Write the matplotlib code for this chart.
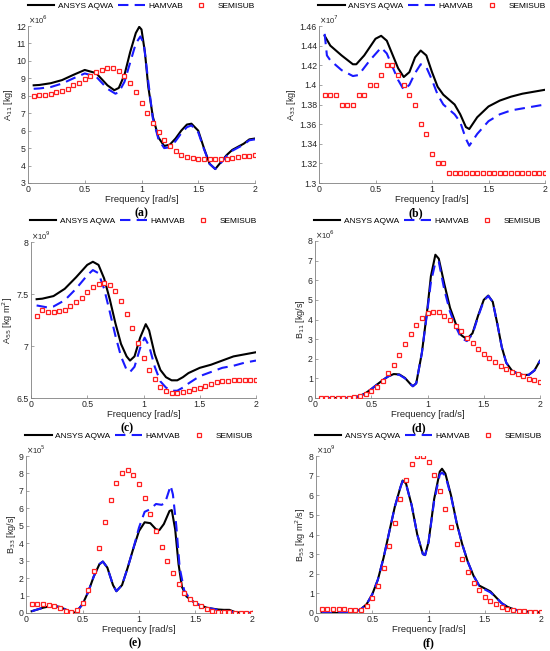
import numpy as np
import matplotlib
matplotlib.use("Agg")
import matplotlib.pyplot as plt

# ---------------- data ----------------
freq_semi = [round(0.05 * i, 2) for i in range(1, 41)]

# (a) A11 x1e6
a_x_aq = [0.05, 0.1, 0.2, 0.3, 0.4, 0.5, 0.6, 0.7, 0.76, 0.8, 0.85, 0.9, 0.95, 0.98, 1.0, 1.03, 1.06, 1.1, 1.15, 1.2, 1.25, 1.3, 1.35, 1.4, 1.44, 1.5, 1.55, 1.6, 1.65, 1.7, 1.75, 1.8, 1.9, 1.95, 2.0]
a_aq = [8.6, 8.62, 8.72, 8.9, 9.2, 9.48, 9.3, 8.6, 8.32, 8.45, 9.2, 10.5, 11.6, 11.95, 11.8, 10.5, 8.5, 6.8, 5.6, 5.12, 5.2, 5.55, 6.0, 6.35, 6.4, 6.0, 5.0, 4.1, 3.8, 4.2, 4.6, 4.9, 5.25, 5.5, 5.55]
a_x_ham = [0.05, 0.1, 0.2, 0.3, 0.4, 0.5, 0.6, 0.7, 0.77, 0.8, 0.85, 0.9, 0.95, 0.99, 1.02, 1.06, 1.1, 1.15, 1.2, 1.25, 1.3, 1.35, 1.4, 1.44, 1.5, 1.55, 1.6, 1.65, 1.7, 1.75, 1.8, 1.9, 1.95, 2.0]
a_ham = [8.4, 8.42, 8.5, 8.7, 9.0, 9.28, 9.1, 8.4, 8.12, 8.2, 8.8, 9.9, 11.0, 11.4, 11.0, 8.8, 6.7, 5.5, 5.0, 5.05, 5.4, 5.85, 6.2, 6.3, 5.9, 4.95, 4.1, 3.8, 4.15, 4.55, 4.85, 5.2, 5.45, 5.5]
a_semi = [8.0, 8.05, 8.07, 8.12, 8.2, 8.3, 8.4, 8.6, 8.75, 8.95, 9.15, 9.35, 9.5, 9.58, 9.57, 9.42, 9.12, 8.72, 8.2, 7.6,
          7.0, 6.42, 5.92, 5.48, 5.12, 4.85, 4.62, 4.5, 4.42, 4.38, 4.35, 4.35, 4.35, 4.38, 4.4, 4.45, 4.48, 4.52, 4.55, 4.6]

# (b) A33 x1e7
b_x_aq = [0.05, 0.1, 0.2, 0.3, 0.33, 0.4, 0.5, 0.55, 0.6, 0.7, 0.75, 0.8, 0.85, 0.9, 0.95, 1.0, 1.05, 1.1, 1.2, 1.25, 1.3, 1.33, 1.4, 1.5, 1.6, 1.7, 1.8, 1.9, 2.0]
b_aq = [1.45, 1.44, 1.43, 1.421, 1.421, 1.43, 1.447, 1.45, 1.445, 1.417, 1.408, 1.413, 1.428, 1.435, 1.43, 1.413, 1.398, 1.39, 1.38, 1.37, 1.357, 1.355, 1.367, 1.378, 1.384, 1.388, 1.391, 1.393, 1.395]
b_x_ham = [0.05, 0.07, 0.1, 0.2, 0.3, 0.35, 0.45, 0.55, 0.6, 0.7, 0.75, 0.8, 0.85, 0.9, 0.95, 1.0, 1.05, 1.1, 1.2, 1.25, 1.3, 1.33, 1.4, 1.5, 1.6, 1.7, 1.8, 1.9, 2.0]
b_ham = [1.452, 1.43, 1.425, 1.415, 1.409, 1.41, 1.425, 1.438, 1.432, 1.405, 1.395, 1.4, 1.412, 1.421, 1.418, 1.405, 1.39, 1.38, 1.37, 1.362, 1.345, 1.338, 1.35, 1.363, 1.37, 1.374, 1.376, 1.378, 1.38]
b_semi = [1.39, 1.39, 1.39, 1.38, 1.38, 1.38, 1.39, 1.39, 1.40, 1.40, 1.41, 1.42, 1.42, 1.41, 1.40, 1.39, 1.38, 1.36, 1.35, 1.33,
          1.32, 1.32, 1.31, 1.31, 1.31, 1.31, 1.31, 1.31, 1.31, 1.31, 1.31, 1.31, 1.31, 1.31, 1.31, 1.31, 1.31, 1.31, 1.31, 1.31]

# (c) A55 x1e9
c_x_aq = [0.05, 0.1, 0.2, 0.3, 0.4, 0.5, 0.55, 0.6, 0.65, 0.7, 0.75, 0.8, 0.85, 0.88, 0.92, 0.97, 1.02, 1.05, 1.1, 1.15, 1.2, 1.25, 1.3, 1.35, 1.4, 1.5, 1.6, 1.7, 1.8, 1.9, 2.0]
c_aq = [7.45, 7.455, 7.48, 7.55, 7.66, 7.78, 7.81, 7.78, 7.65, 7.45, 7.22, 7.02, 6.9, 6.86, 6.9, 7.08, 7.21, 7.15, 6.92, 6.77, 6.7, 6.67, 6.67, 6.7, 6.74, 6.79, 6.82, 6.86, 6.9, 6.92, 6.94]
c_x_ham = [0.05, 0.1, 0.15, 0.2, 0.3, 0.4, 0.5, 0.55, 0.6, 0.65, 0.7, 0.75, 0.8, 0.85, 0.88, 0.92, 0.97, 1.01, 1.05, 1.1, 1.15, 1.2, 1.25, 1.3, 1.35, 1.4, 1.5, 1.6, 1.7, 1.8, 1.9, 2.0]
c_ham = [7.39, 7.38, 7.37, 7.38, 7.44, 7.55, 7.68, 7.73, 7.7, 7.55, 7.33, 7.1, 6.9, 6.77, 6.75, 6.8, 6.98, 7.08, 7.0, 6.8, 6.66, 6.6, 6.57, 6.57, 6.6, 6.64, 6.71, 6.75, 6.79, 6.81, 6.84, 6.86]
c_semi = [7.29, 7.35, 7.33, 7.33, 7.34, 7.35, 7.38, 7.42, 7.46, 7.52, 7.57, 7.60, 7.61, 7.59, 7.53, 7.43, 7.31, 7.17, 7.03, 6.88,
          6.77, 6.68, 6.61, 6.57, 6.55, 6.55, 6.56, 6.57, 6.59, 6.60, 6.62, 6.63, 6.65, 6.66, 6.66, 6.67, 6.67, 6.67, 6.67, 6.67]

# (d) B11 x1e6
d_x = [0.05, 0.1, 0.2, 0.3, 0.35, 0.4, 0.45, 0.5, 0.55, 0.6, 0.65, 0.7, 0.75, 0.8, 0.85, 0.87, 0.9, 0.95, 1.0, 1.03, 1.07, 1.1, 1.15, 1.2, 1.25, 1.3, 1.35, 1.4, 1.45, 1.5, 1.54, 1.58, 1.62, 1.66, 1.7, 1.75, 1.8, 1.85, 1.9, 1.95, 2.0]
d_aq = [0.0, 0.0, 0.0, 0.0, 0.03, 0.1, 0.25, 0.45, 0.68, 0.9, 1.1, 1.22, 1.2, 1.02, 0.7, 0.6, 0.75, 2.3, 4.6, 6.2, 7.3, 7.1, 5.8, 4.6, 3.8, 3.2, 3.0, 3.3, 4.2, 5.0, 5.22, 4.9, 3.8, 2.6, 1.8, 1.4, 1.25, 1.17, 1.18, 1.4, 1.9]
d_ham = [0.0, 0.0, 0.0, 0.0, 0.03, 0.1, 0.25, 0.45, 0.68, 0.9, 1.1, 1.2, 1.18, 1.0, 0.7, 0.6, 0.75, 2.3, 4.5, 5.9, 6.9, 6.95, 5.5, 4.4, 3.65, 3.05, 2.9, 3.25, 4.15, 4.95, 5.2, 4.9, 3.8, 2.6, 1.8, 1.4, 1.25, 1.17, 1.18, 1.4, 1.9]
d_semi = [0.0, 0.0, 0.0, 0.0, 0.0, 0.0, 0.05, 0.1, 0.2, 0.35, 0.55, 0.85, 1.25, 1.7, 2.2, 2.75, 3.27, 3.73, 4.1, 4.33,
          4.4, 4.37, 4.2, 3.97, 3.68, 3.4, 3.07, 2.78, 2.5, 2.23, 2.02, 1.82, 1.63, 1.47, 1.32, 1.2, 1.1, 0.98, 0.9, 0.8]

# (e) B33 x1e5
e_x_aq = [0.05, 0.1, 0.15, 0.2, 0.25, 0.3, 0.35, 0.4, 0.43, 0.45, 0.5, 0.55, 0.6, 0.65, 0.68, 0.72, 0.77, 0.8, 0.85, 0.9, 0.95, 1.0, 1.05, 1.1, 1.15, 1.18, 1.22, 1.27, 1.29, 1.32, 1.35, 1.38, 1.42, 1.5, 1.6, 1.7, 1.75, 1.8, 1.85, 1.9, 2.0]
e_aq = [0.1, 0.2, 0.3, 0.37, 0.4, 0.35, 0.2, 0.05, 0.02, 0.1, 0.5, 1.2, 2.1, 2.8, 2.95, 2.6, 1.6, 1.25, 1.6, 2.6, 3.7, 4.7, 5.2, 5.15, 4.8, 4.75, 5.1, 5.85, 5.9, 4.8, 2.8, 1.5, 0.95, 0.55, 0.3, 0.2, 0.18, 0.18, 0.05, 0.02, 0.0]
e_x_ham = [0.05, 0.1, 0.15, 0.2, 0.25, 0.3, 0.35, 0.4, 0.43, 0.45, 0.5, 0.55, 0.6, 0.65, 0.68, 0.72, 0.77, 0.8, 0.85, 0.9, 0.95, 1.0, 1.05, 1.1, 1.15, 1.2, 1.23, 1.28, 1.3, 1.33, 1.36, 1.4, 1.45, 1.5, 1.6, 1.7, 1.75, 1.8, 1.85, 1.9, 2.0]
e_ham = [0.1, 0.2, 0.3, 0.37, 0.4, 0.35, 0.2, 0.05, 0.02, 0.1, 0.5, 1.2, 2.1, 2.8, 2.95, 2.6, 1.6, 1.25, 1.6, 2.6, 3.7, 4.9, 5.8, 5.95, 6.25, 6.2, 6.3, 7.3, 6.8, 5.0, 2.6, 1.3, 0.8, 0.55, 0.3, 0.18, 0.12, 0.1, 0.04, 0.02, 0.0]
e_semi = [0.5, 0.5, 0.5, 0.48, 0.42, 0.3, 0.12, 0.05, 0.15, 0.55, 1.3, 2.4, 3.75, 5.2, 6.45, 7.45, 8.02, 8.18, 7.92, 7.38,
          6.57, 5.67, 4.72, 3.8, 2.98, 2.27, 1.67, 1.17, 0.82, 0.55, 0.38, 0.22, 0.12, 0.08, 0.05, 0.04, 0.02, 0.01, 0.01, 0.0]

# (f) B55 x1e9
f_x = [0.05, 0.15, 0.25, 0.3, 0.35, 0.4, 0.45, 0.5, 0.55, 0.6, 0.65, 0.7, 0.75, 0.77, 0.8, 0.85, 0.9, 0.95, 0.97, 1.0, 1.05, 1.1, 1.12, 1.15, 1.2, 1.25, 1.3, 1.35, 1.4, 1.45, 1.5, 1.55, 1.6, 1.65, 1.7, 1.75, 1.8, 1.9, 2.0]
f_aq = [0.0, 0.0, 0.0, 0.02, 0.07, 0.2, 0.45, 0.95, 1.7, 2.8, 4.1, 5.4, 6.4, 6.75, 6.6, 5.5, 4.0, 3.0, 2.95, 3.6, 5.8, 7.2, 7.35, 7.1, 6.0, 4.6, 3.5, 2.6, 1.9, 1.4, 1.25, 1.1, 0.8, 0.5, 0.32, 0.2, 0.13, 0.06, 0.03]
f_ham = [0.0, 0.0, 0.0, 0.02, 0.07, 0.2, 0.45, 0.95, 1.7, 2.8, 4.1, 5.4, 6.4, 6.72, 6.58, 5.5, 4.0, 3.0, 2.95, 3.6, 5.7, 7.05, 7.15, 7.0, 5.95, 4.6, 3.5, 2.6, 1.9, 1.4, 1.2, 1.05, 0.8, 0.5, 0.32, 0.2, 0.13, 0.06, 0.03]
f_semi = [0.2, 0.2, 0.2, 0.2, 0.18, 0.15, 0.13, 0.15, 0.35, 0.75, 1.4, 2.3, 3.4, 4.6, 5.8, 6.8, 7.6, 8.0, 8.0, 7.7,
          7.05, 6.2, 5.3, 4.38, 3.5, 2.75, 2.08, 1.55, 1.15, 0.83, 0.6, 0.45, 0.32, 0.22, 0.17, 0.12, 0.09, 0.07, 0.06, 0.05]

labels = ["ANSYS AQWA", "HAMVAB", "SEMISUB"]

# ---------------- drawing ----------------
plt.rcParams['font.family'] = ['Liberation Sans', 'DejaVu Sans']
W, H = 550, 651
fig = plt.figure(figsize=(W / 100, H / 100), dpi=100)

def px_axes(l, r, t, b):
    return fig.add_axes([l / W, 1 - b / H, (r - l) / W, (b - t) / H])

panels = [
    dict(box=(28, 255, 26, 183), xa=a_x_aq, ya=a_aq, xh=a_x_ham, yh=a_ham, ys=a_semi,
         ylim=(3, 12), yticks=[3, 4, 5, 6, 7, 8, 9, 10, 11, 12], ytl=None, exp='6',
         ylabel=r'A$_{11}$ [kg]', tag='(a)', tagx=141, tagy=213, legy=6),
    dict(box=(319, 545, 26, 183), xa=b_x_aq, ya=b_aq, xh=b_x_ham, yh=b_ham, ys=b_semi,
         ylim=(1.3, 1.46), yticks=[1.3, 1.32, 1.34, 1.36, 1.38, 1.4, 1.42, 1.44, 1.46],
         ytl=['1.3', '1.32', '1.34', '1.36', '1.38', '1.4', '1.42', '1.44', '1.46'], exp='7',
         ylabel=r'A$_{33}$ [kg]', tag='(b)', tagx=416, tagy=213, legy=6),
    dict(box=(31, 256, 242, 398), xa=c_x_aq, ya=c_aq, xh=c_x_ham, yh=c_ham, ys=c_semi,
         ylim=(6.5, 8), yticks=[6.5, 7, 7.5, 8], ytl=['6.5', '7', '7.5', '8'], exp='9',
         ylabel=r'A$_{55}$ [kg m$^2$]', tag='(c)', tagx=127, tagy=428, legy=221),
    dict(box=(315, 540, 241, 398), xa=d_x, ya=d_aq, xh=d_x, yh=d_ham, ys=d_semi,
         ylim=(0, 8), yticks=list(range(9)), ytl=None, exp='6',
         ylabel=r'B$_{11}$ [kg/s]', tag='(d)', tagx=419, tagy=428, legy=221),
    dict(box=(26, 252, 456, 613), xa=e_x_aq, ya=e_aq, xh=e_x_ham, yh=e_ham, ys=e_semi,
         ylim=(0, 9), yticks=list(range(10)), ytl=None, exp='5',
         ylabel=r'B$_{33}$ [kg/s]', tag='(e)', tagx=135, tagy=643, legy=436),
    dict(box=(316, 541, 456, 613), xa=f_x, ya=f_aq, xh=f_x, yh=f_ham, ys=f_semi,
         ylim=(0, 8), yticks=list(range(9)), ytl=None, exp='9',
         ylabel=r'B$_{55}$ [kg m$^2$/s]', tag='(f)', tagx=428, tagy=643, legy=436),
]

axis_col = '#262626'
for p in panels:
    l, r, t, b = p['box']
    ax = px_axes(l, r, t, b)
    h1, = ax.plot(p['xa'], p['ya'], color='black', lw=1.5, zorder=3)
    h2, = ax.plot(p['xh'], p['yh'], color='#1a1aff', lw=1.5, ls=(0, (5, 3)), zorder=4)
    h3, = ax.plot(freq_semi, p['ys'], ls='none', marker='s', ms=3.2, mfc='white',
                  mec='#ff2020', mew=0.9, zorder=5)
    ax.set_xlim(0, 2)
    ax.set_ylim(*p['ylim'])
    ax.set_xticks([0, 0.5, 1, 1.5, 2])
    ax.set_xticklabels(['0', '0.5', '1', '1.5', '2'])
    ax.set_yticks(p['yticks'])
    if p['ytl'] is not None:
        ax.set_yticklabels(p['ytl'])
    for s in ['top', 'right']:
        ax.spines[s].set_visible(False)
    for s in ['left', 'bottom']:
        ax.spines[s].set_color('#808080')
        ax.spines[s].set_linewidth(0.6)
    ax.tick_params(direction='in', length=2.5, width=0.5, colors='#808080',
                   labelcolor=axis_col, labelsize=6.3, pad=1.5)
    ax.set_xlabel('Frequency [rad/s]', fontsize=6.8, color=axis_col, labelpad=0.5)
    ax.set_ylabel(p['ylabel'], fontsize=6.5, color=axis_col, labelpad=1)
    ax.text(0.0, 1.0, r'$\times$10$^{%s}$' % p['exp'], transform=ax.transAxes,
            fontsize=5.5, color=axis_col, ha='left', va='bottom')
    cx = (l + r) / 2
    fig.legend([h1, h2, h3], labels, loc='center', ncol=3, frameon=False,
               bbox_to_anchor=(cx / W, 1 - p['legy'] / H), fontsize=6,
               handlelength=3.2, columnspacing=0.6, handletextpad=0.4,
               markerscale=1.0, borderaxespad=0)
    fig.text(p['tagx'] / W, 1 - p['tagy'] / H, p['tag'], ha='center', va='center',
             fontsize=8.5, fontweight='bold', family=['Liberation Serif', 'DejaVu Serif'])

fig.savefig('out.png', dpi=100, facecolor='white')
